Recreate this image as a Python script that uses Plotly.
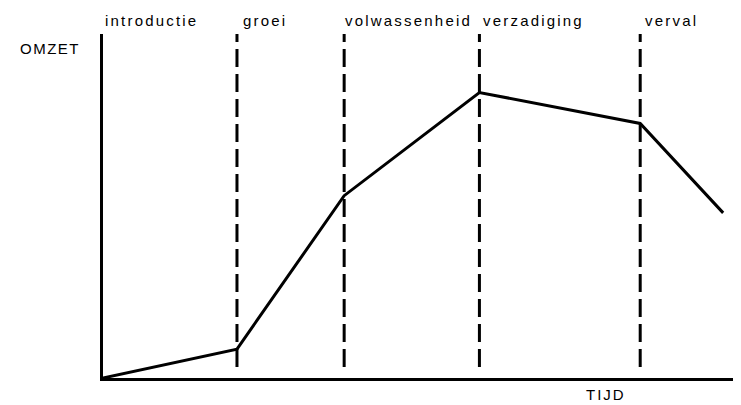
import plotly.graph_objects as go

# Data (arbitrary units: time 0-100, turnover 0-100)
tijd = [0, 21, 37.8, 59, 84.2, 97.2]
omzet = [0, 8.4, 53, 83, 74, 48]
fase_grenzen = [21, 37.8, 59, 84.2]
fase_labels = ["introductie", "groei", "volwassenheid", "verzadiging", "verval"]
fase_label_x = [0, 21.6, 37.6, 59.3, 84.6]

# the page body has an 8px default margin; the figure runs past the right edge
W, H = 741, 397
L, R = 95, 0
x_max = 100 * (W - L - R) / 638.0
fig = go.Figure()

fig.add_trace(go.Scatter(x=tijd, y=omzet, mode="lines",
                         line=dict(color="black", width=3), showlegend=False,
                         hoverinfo="skip"))

for xb in fase_grenzen:
    fig.add_trace(go.Scatter(x=[xb, xb], y=[3.2, 100], mode="lines",
                             line=dict(color="black", width=3, dash="18px,7px"),
                             showlegend=False, hoverinfo="skip"))

font = dict(family="Liberation Sans, Arial, sans-serif", size=15, color="black")


def spaced(t, s=2.2):
    return f'<span style="letter-spacing:{s}px">{t}</span>'


for lab, xl in zip(fase_labels, fase_label_x):
    fig.add_annotation(x=xl, y=1.038, xref="x", yref="paper", text=spaced(lab),
                       showarrow=False, xanchor="left", yanchor="middle",
                       font=font)

fig.add_annotation(x=-0.0325, y=0.959, xref="paper", yref="paper", text=spaced("OMZET", 1.5),
                   showarrow=False, xanchor="right", yanchor="middle", font=font)
fig.add_annotation(x=0.779, y=-0.049, xref="paper", yref="paper", text=spaced("TIJD", 2),
                   showarrow=False, xanchor="center", yanchor="middle", font=font)

fig.update_xaxes(range=[0, x_max], showline=True, linecolor="black", linewidth=3,
                 showgrid=False, zeroline=False, showticklabels=False, ticks="")
fig.update_yaxes(range=[0, 100], showline=True, linecolor="black", linewidth=3,
                 showgrid=False, zeroline=False, showticklabels=False, ticks="")

fig.update_layout(width=W, height=H,
                  margin=dict(l=L, r=R, t=26, b=27, autoexpand=False),
                  paper_bgcolor="white", plot_bgcolor="white")

fig.write_html("out.html")
